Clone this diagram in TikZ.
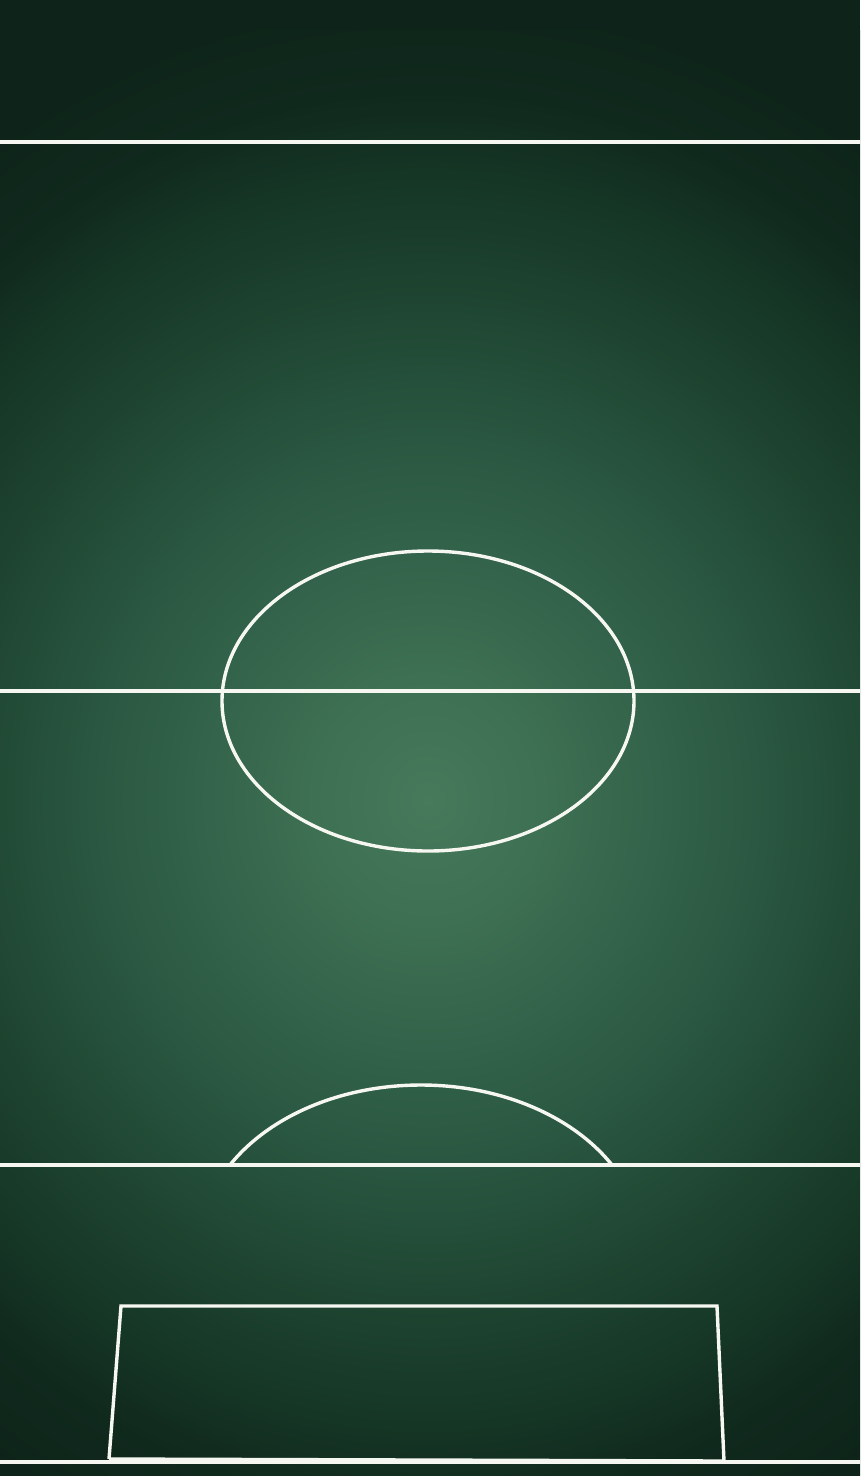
\documentclass[tikz,border=0pt]{standalone}
\usetikzlibrary{calc}
\definecolor{fieldA}{HTML}{467A5B}
\definecolor{fieldB}{HTML}{3E7053}
\definecolor{fieldC}{HTML}{33634A}
\definecolor{fieldD}{HTML}{295640}
\definecolor{fieldE}{HTML}{1F4632}
\definecolor{fieldF}{HTML}{163726}
\definecolor{fieldG}{HTML}{10291D}
\definecolor{fieldH}{HTML}{0E241A}
\definecolor{chalk}{HTML}{F7F7F2}
\pgfdeclareradialshading{fieldshade}{\pgfpoint{0bp}{0bp}}{color(0bp)=(fieldA); color(4bp)=(fieldB); color(8bp)=(fieldC); color(12bp)=(fieldD); color(16bp)=(fieldE); color(20bp)=(fieldF); color(23bp)=(fieldG); color(26bp)=(fieldH); color(50bp)=(fieldH)}
\tikzset{pitchline/.style={draw=chalk, line width=3.8pt, line join=miter},
         pitcharc/.style={draw=chalk, line width=3.4pt, line join=miter}}
\begin{document}
\begin{tikzpicture}[x=1pt,y=-1pt]
\useasboundingbox (0,0) rectangle (860,1476);
\fill[fieldH] (0,0) rectangle (860,1476);
\begin{scope}
\clip (0,0) rectangle (860,1476);
\shade[shading=fieldshade] (428-720,800-770) rectangle (428+720,800+770);
\end{scope}
% lines
\draw[pitchline] (0,142) -- (860,142);
\draw[pitcharc] (0,691) -- (860,691);
\draw[pitcharc] (428,701) ellipse [x radius=206, y radius=150];
\draw[pitchline] (0,1165) -- (860,1165);
\begin{scope}
\clip (0,0) rectangle (860,1164);
\draw[pitcharc] (421,1246) ellipse [x radius=221, y radius=161];
\end{scope}
\draw[pitcharc] (109,1459) -- (121,1306) -- (717,1306) -- (724,1461);
\draw[pitcharc] (109,1459) -- (724,1461);
\draw[pitchline] (0,1462) -- (860,1462);
\end{tikzpicture}
\end{document}
